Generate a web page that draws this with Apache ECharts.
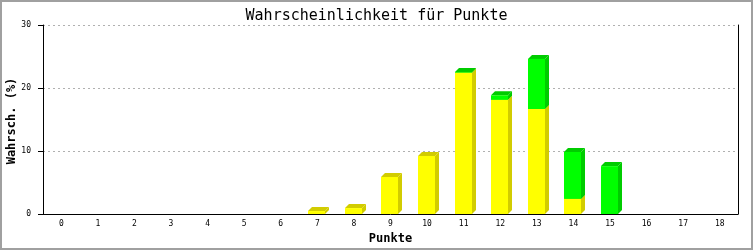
<!DOCTYPE html>
<html>
<head>
<meta charset="utf-8">
<script src="https://cdn.jsdelivr.net/npm/echarts@6/dist/echarts.min.js"></script>
<style>
html,body{margin:0;padding:0;background:#fff;}
#chart{width:753px;height:250px;}
</style>
</head>
<body>
<div id="chart"></div>
<script>
const categories = ['0','1','2','3','4','5','6','7','8','9','10','11','12','13','14','15','16','17','18'];
const yellowValues = [0,0,0,0,0,0,0,0.47,0.94,5.87,9.2,22.43,18.12,16.67,2.4,0,0,0,0];
const greenValues  = [0,0,0,0,0,0,0,0,0,0,0,0.12,0.72,7.95,7.45,7.6,0,0,0];
const yTicks = { min: 0, max: 30, interval: 10 };
const yAxisTitle = 'Wahrsch. (%)';

const yellowData = categories.map((c, i) => [i, 0, yellowValues[i]]);
const greenData = categories.map((c, i) => [i, yellowValues[i], yellowValues[i] + greenValues[i]]);

function makeRender(front, dark) {
  return function (params, api) {
    const v0 = api.value(1), v1 = api.value(2);
    if (!(v1 - v0 > 0)) return null;
    const idx = api.value(0);
    const pb = api.coord([idx, v0]);
    const pt = api.coord([idx, v1]);
    const w = api.size([1, 0])[0] * 0.47;
    const d = 4;
    const x0 = Math.round(pb[0] - w / 2 - 0.5), x1 = Math.round(x0 + w);
    const yb = pb[1], yt = pt[1];
    return {
      type: 'group',
      children: [
        { type: 'polygon', shape: { points: [[x1, yt], [x1 + d, yt - d], [x1 + d, yb - d], [x1, yb]] }, style: { fill: dark } },
        { type: 'polygon', shape: { points: [[x0, yt], [x0 + d, yt - d], [x1 + d, yt - d], [x1, yt]] }, style: { fill: dark } },
        { type: 'rect', shape: { x: x0, y: yt, width: x1 - x0, height: yb - yt }, style: { fill: front } }
      ]
    };
  };
}

const font = 'DejaVu Sans Mono';
const chart = echarts.init(document.getElementById('chart'));
chart.setOption({
  animation: false,
  backgroundColor: '#fff',
  title: {
    text: 'Wahrscheinlichkeit für Punkte',
    left: 'center', top: 4,
    textStyle: { fontFamily: font, fontSize: 15, fontWeight: 'normal', color: '#000' }
  },
  graphic: [{
    type: 'rect', silent: true, z: 100,
    shape: { x: 1, y: 1, width: 751, height: 248 },
    style: { fill: 'none', stroke: '#a0a0a0', lineWidth: 2 }
  }, {
    type: 'text', silent: true, x: 12, y: 121, rotation: Math.PI / 2,
    style: { text: yAxisTitle, fontFamily: font, fontSize: 12, fontWeight: 'bold', fill: '#000', align: 'center', verticalAlign: 'middle' }
  }],
  grid: { left: 43, right: 15, top: 25, bottom: 36, containLabel: false, outerBoundsMode: 'none' },
  xAxis: {
    type: 'category', data: categories,
    name: 'Punkte', nameLocation: 'middle', nameGap: 18,
    nameTextStyle: { fontFamily: font, fontSize: 12, fontWeight: 'bold', color: '#000' },
    axisLine: { lineStyle: { color: '#000', width: 1 } },
    axisTick: { show: false },
    axisLabel: { fontFamily: font, fontSize: 8, color: '#000', margin: 6 }
  },
  yAxis: [{
    type: 'value', min: yTicks.min, max: yTicks.max, interval: yTicks.interval,
    axisLine: { show: true, lineStyle: { color: '#000', width: 1 } },
    axisTick: { show: true, length: 5, lineStyle: { color: '#000' } },
    axisLabel: { fontFamily: font, fontSize: 8, color: '#000', margin: 12 },
    splitLine: { show: true, lineStyle: { color: '#b0b0b0', type: [2, 3], width: 1 } }
  }, {
    type: 'value', position: 'right', min: yTicks.min, max: yTicks.max, interval: yTicks.interval,
    axisLine: { show: true, lineStyle: { color: '#000', width: 1 } },
    axisTick: { show: false }, axisLabel: { show: false }, splitLine: { show: false }
  }],
  series: [
    { type: 'custom', name: 'gelb', data: yellowData, renderItem: makeRender('#ffff00', '#d2cc00'), encode: { x: 0, y: [1, 2] }, z: 2 },
    { type: 'custom', name: 'grün', data: greenData, renderItem: makeRender('#00ff00', '#00cc00'), encode: { x: 0, y: [1, 2] }, z: 3 }
  ]
});
</script>
</body>
</html>
